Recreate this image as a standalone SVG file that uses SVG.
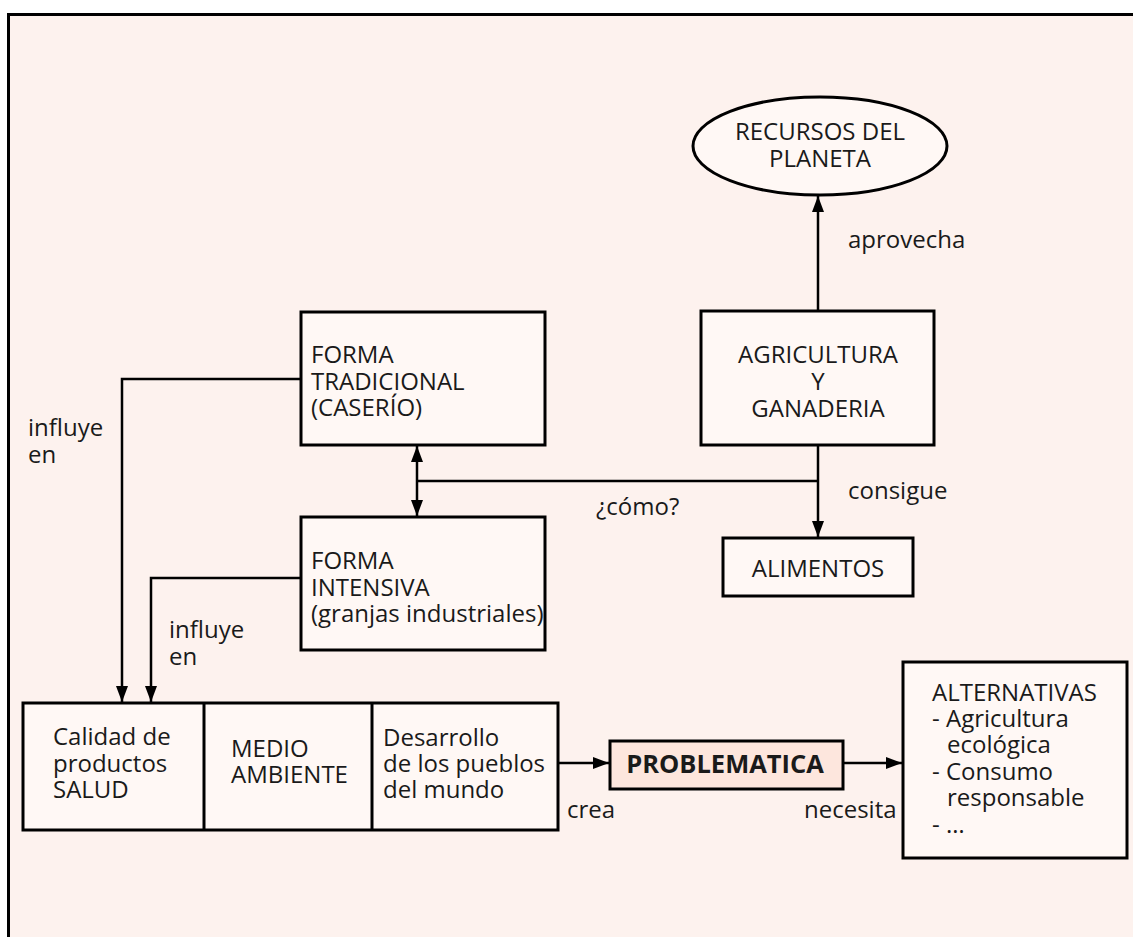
<svg xmlns="http://www.w3.org/2000/svg" width="1133" height="937" viewBox="0 0 1133 937">
<defs>
<marker id="arr" viewBox="0 0 16 12" refX="16" refY="6" markerWidth="16" markerHeight="12" markerUnits="userSpaceOnUse" orient="auto-start-reverse">
<path d="M0,0 L16,6 L0,12 Z" fill="#000"/>
</marker>
<style>
.box{fill:#fff8f5;stroke:#000;stroke-width:3}
.con{fill:none;stroke:#000;stroke-width:2.5}
text{font-family:"Open Sans","Noto Sans","DejaVu Sans",sans-serif;font-size:24px;fill:#1a1a1a}
.c{text-anchor:middle}
.b{font-weight:bold;font-size:25.5px}
</style>
</defs>
<rect x="0" y="0" width="1133" height="937" fill="#ffffff"/>
<rect x="8.5" y="14.5" width="1140" height="940" fill="#fdf2ee" stroke="#000" stroke-width="3"/>

<g id="connectors">
<line class="con" x1="818" y1="311" x2="818" y2="196" marker-end="url(#arr)"/>
<line class="con" x1="818" y1="445" x2="818" y2="537" marker-end="url(#arr)"/>
<line class="con" x1="818" y1="481" x2="417" y2="481"/>
<line class="con" x1="417" y1="446" x2="417" y2="516" marker-start="url(#arr)" marker-end="url(#arr)"/>
<polyline class="con" points="301,379 122,379 122,702" marker-end="url(#arr)"/>
<polyline class="con" points="301,578 151,578 151,702" marker-end="url(#arr)"/>
<line class="con" x1="558" y1="763" x2="609" y2="763" marker-end="url(#arr)"/>
<line class="con" x1="843" y1="763" x2="902" y2="763" marker-end="url(#arr)"/>
</g>

<g id="recursos">
<ellipse class="box" cx="820" cy="146" rx="127" ry="49"/>
<text class="c" x="820" y="140">RECURSOS DEL</text>
<text class="c" x="820" y="167">PLANETA</text>
</g>
<g id="agricultura">
<rect class="box" x="701" y="311" width="233" height="134"/>
<text class="c" x="818" y="363">AGRICULTURA</text>
<text class="c" x="818" y="390">Y</text>
<text class="c" x="818" y="417">GANADERIA</text>
</g>
<g id="alimentos">
<rect class="box" x="723" y="538" width="190" height="58"/>
<text class="c" x="818" y="577">ALIMENTOS</text>
</g>
<g id="tradicional">
<rect class="box" x="301" y="312" width="244" height="133"/>
<text x="311" y="363">FORMA</text>
<text x="311" y="390">TRADICIONAL</text>
<text x="311" y="416">(CASERÍO)</text>
</g>
<g id="intensiva">
<rect class="box" x="301" y="517" width="244" height="133"/>
<text x="311" y="569">FORMA</text>
<text x="311" y="596">INTENSIVA</text>
<text x="311" y="622">(granjas industriales)</text>
</g>
<g id="efectos">
<rect class="box" x="23" y="703" width="535" height="127"/>
<line x1="204" y1="703" x2="204" y2="830" stroke="#000" stroke-width="3"/>
<line x1="372" y1="703" x2="372" y2="830" stroke="#000" stroke-width="3"/>
<text x="53" y="745">Calidad de</text>
<text x="53" y="772">productos</text>
<text x="53" y="798">SALUD</text>
<text x="231" y="757">MEDIO</text>
<text x="231" y="783">AMBIENTE</text>
<text x="383" y="746">Desarrollo</text>
<text x="383" y="772">de los pueblos</text>
<text x="383" y="798">del mundo</text>
</g>
<g id="problematica">
<rect x="610" y="741" width="233" height="48" fill="#fde6dd" stroke="#000" stroke-width="3"/>
<text class="c b" x="725" y="773">PROBLEMATICA</text>
</g>
<g id="alternativas">
<rect class="box" x="903" y="662" width="224" height="196"/>
<text x="932" y="701">ALTERNATIVAS</text>
<text x="932" y="727">- Agricultura</text>
<text x="947" y="753">ecológica</text>
<text x="932" y="780">- Consumo</text>
<text x="947" y="806">responsable</text>
<text x="932" y="833">- …</text>
</g>
<g id="labels">
<text x="848" y="248">aprovecha</text>
<text x="848" y="499">consigue</text>
<text x="596" y="515">¿cómo?</text>
<text x="28" y="436">influye</text>
<text x="28" y="463">en</text>
<text x="169" y="638">influye</text>
<text x="169" y="665">en</text>
<text x="567" y="818">crea</text>
<text x="804" y="818">necesita</text>
</g>
</svg>
